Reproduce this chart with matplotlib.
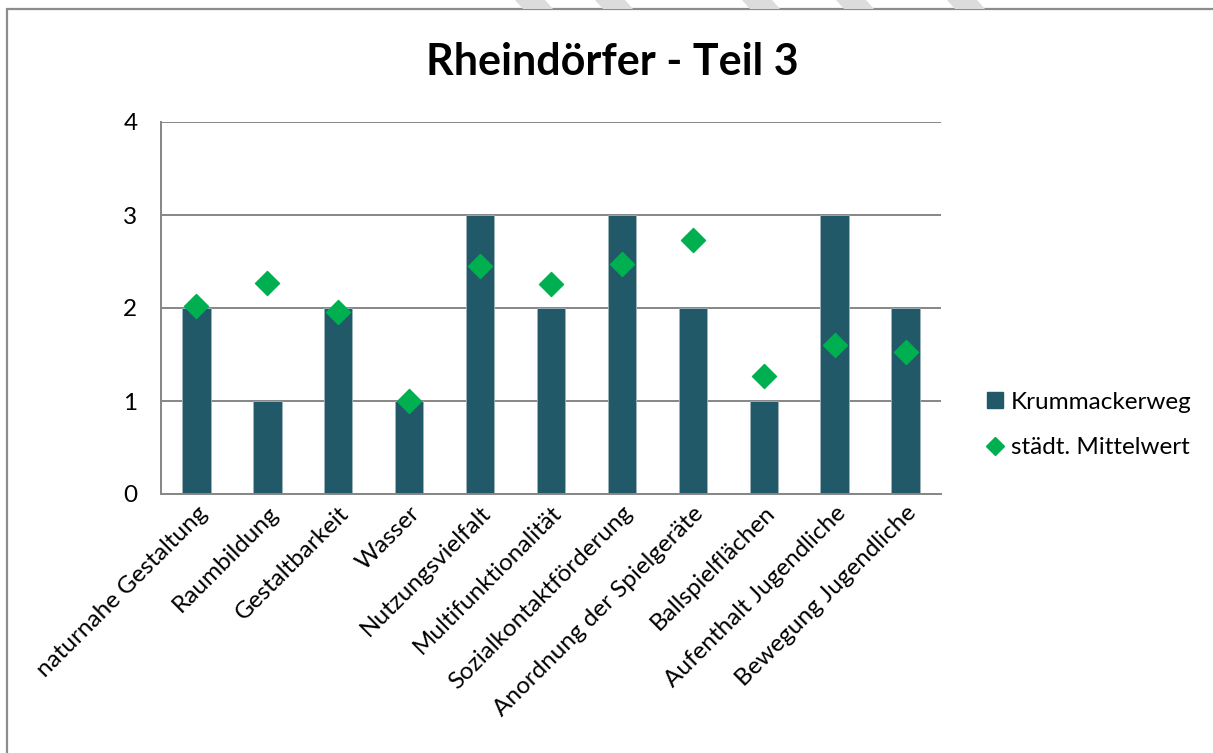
import numpy as np
import matplotlib.pyplot as plt
from matplotlib.patches import Polygon, Rectangle
from matplotlib.lines import Line2D

plt.rcParams['font.family'] = ['Lato', 'DejaVu Sans']

# Daten
kategorien = ['naturnahe Gestaltung', 'Raumbildung', 'Gestaltbarkeit', 'Wasser',
              'Nutzungsvielfalt', 'Multifunktionalität', 'Sozialkontaktförderung',
              'Anordnung der Spielgeräte', 'Ballspielflächen', 'Aufenthalt Jugendliche',
              'Bewegung Jugendliche']
krummackerweg = [2, 1, 2, 1, 3, 2, 3, 2, 1, 3, 2]
mittelwert = [2.02, 2.27, 1.96, 1.0, 2.45, 2.26, 2.47, 2.73, 1.27, 1.60, 1.53]
yticks = [0, 1, 2, 3, 4]

bar_color = '#215968'
dia_color = '#00b050'
grid_color = '#868686'

W, H = 1213, 753
fig = plt.figure(figsize=(W / 100, H / 100), dpi=100)

# Rahmen + Streifen oben
fig.add_artist(Rectangle((7 / W, -0.1), 1.2, 1 - 9 / H + 0.1, transform=fig.transFigure,
                         fill=False, edgecolor='#8c8c8c', linewidth=1.6))
for x0 in [515, 595, 742, 836, 947]:
    pts = [(x0 / W, 1), ((x0 + 30) / W, 1), ((x0 + 38) / W, 1 - 9 / H), ((x0 + 8) / W, 1 - 9 / H)]
    fig.add_artist(Polygon(pts, closed=True, transform=fig.transFigure,
                           facecolor='#dcdcdc', edgecolor='none'))

ax = fig.add_axes([161 / W, 1 - 494 / H, (941 - 161) / W, (494 - 122) / H])
x = np.arange(len(kategorien))
ax.bar(x, krummackerweg, width=0.4, color=bar_color, edgecolor='#9fb4bb', linewidth=0.6,
       zorder=2, label='Krummackerweg')
ax.scatter(x, mittelwert, marker='D', s=150, color=dia_color, zorder=3,
           label='städt. Mittelwert')

ax.set_xlim(-0.5, len(kategorien) - 0.5)
ax.set_ylim(0, 4)
ax.set_yticks(yticks)
ax.set_yticklabels([str(v) for v in yticks], fontsize=17.5)
ax.yaxis.grid(True, color=grid_color, linewidth=1.4, zorder=0)
ax.set_axisbelow(True)
ax.set_xticks(x)
ax.set_xticklabels(kategorien, rotation=45, ha='right', rotation_mode='anchor', fontsize=17.5)
ax.tick_params(axis='y', length=0, pad=17)
ax.tick_params(axis='x', length=0, pad=6)
for s in ['top', 'right']:
    ax.spines[s].set_visible(False)
for s in ['left', 'bottom']:
    ax.spines[s].set_color(grid_color)
    ax.spines[s].set_linewidth(1.4)

fig.text(612 / W, 1 - 62 / H, 'Rheindörfer - Teil 3', ha='center', va='center',
         fontsize=31, fontweight='bold')

handles = [Line2D([], [], marker='s', linestyle='none', color=bar_color, markersize=12),
           Line2D([], [], marker='D', linestyle='none', color=dia_color, markersize=9)]
fig.legend(handles, ['Krummackerweg', 'städt. Mittelwert'], loc='center left',
           bbox_to_anchor=(966 / W, 1 - 425 / H), frameon=False, fontsize=17.5,
           handlelength=0.6, handletextpad=0.35, labelspacing=1.0)

fig.savefig('out.png', dpi=100)
